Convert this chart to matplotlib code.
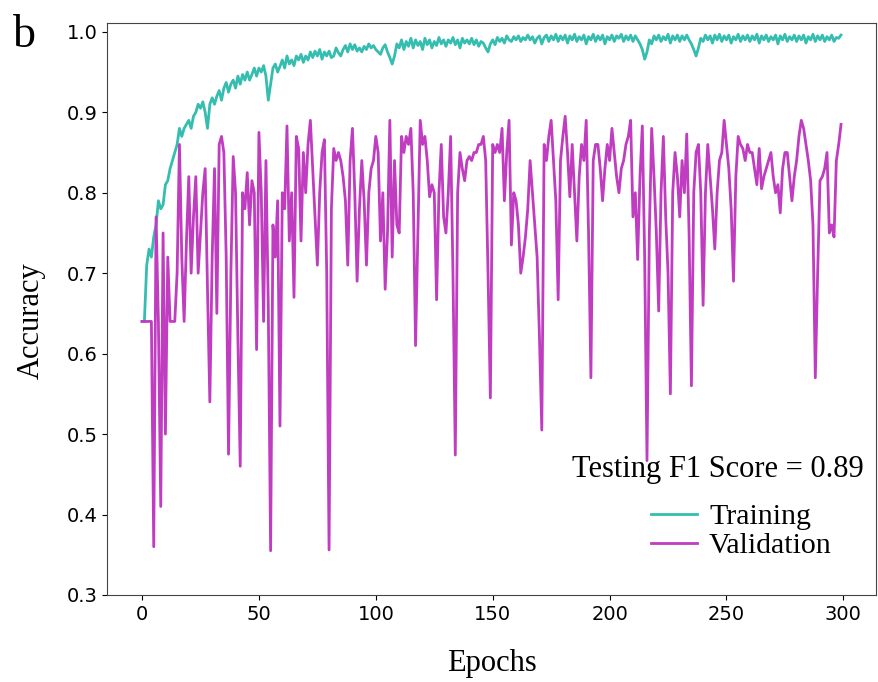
import numpy as np
import matplotlib.pyplot as plt

# Accuracy per epoch
train_acc = [
    0.64, 0.64, 0.71, 0.73, 0.72, 0.745, 0.76, 0.79, 0.78, 0.785,
    0.81, 0.815, 0.83, 0.84, 0.85, 0.86, 0.88, 0.87, 0.88, 0.885,
    0.89, 0.88, 0.895, 0.90, 0.91, 0.905, 0.913, 0.90, 0.88, 0.91,
    0.918, 0.91, 0.92, 0.927, 0.915, 0.93, 0.937, 0.925, 0.935, 0.94,
    0.93, 0.945, 0.935, 0.947, 0.94, 0.95, 0.94, 0.947, 0.955, 0.945,
    0.955, 0.95, 0.958, 0.945, 0.915, 0.935, 0.955, 0.96, 0.95, 0.957,
    0.965, 0.955, 0.97, 0.96, 0.965, 0.958, 0.97, 0.965, 0.972, 0.962,
    0.97, 0.965, 0.975, 0.968, 0.976, 0.97, 0.978, 0.966, 0.975, 0.97,
    0.976, 0.968, 0.97, 0.98, 0.974, 0.97, 0.978, 0.983, 0.975, 0.985,
    0.978, 0.984, 0.976, 0.98, 0.975, 0.982, 0.978, 0.985, 0.98, 0.983,
    0.978, 0.975, 0.972, 0.98, 0.984, 0.975, 0.968, 0.96, 0.97, 0.985,
    0.98, 0.99, 0.978, 0.988, 0.982, 0.992, 0.98, 0.99, 0.983, 0.988,
    0.978, 0.992, 0.984, 0.99, 0.98, 0.988, 0.983, 0.993, 0.985, 0.99,
    0.982, 0.99, 0.986, 0.993, 0.984, 0.99, 0.98, 0.992, 0.986, 0.99,
    0.985, 0.992, 0.984, 0.99, 0.982, 0.988, 0.986, 0.98, 0.975, 0.985,
    0.99, 0.984, 0.993, 0.988, 0.992, 0.986, 0.995, 0.99, 0.988, 0.994,
    0.99, 0.995, 0.988, 0.993, 0.99, 0.996, 0.99, 0.994, 0.986, 0.992,
    0.995, 0.985, 0.993, 0.996, 0.988, 0.995, 0.99, 0.997, 0.988, 0.995,
    0.99, 0.996, 0.986, 0.995, 0.99, 0.997, 0.988, 0.994, 0.99, 0.996,
    0.985, 0.994, 0.99, 0.997, 0.988, 0.995, 0.99, 0.996, 0.985, 0.994,
    0.99, 0.996, 0.988, 0.995, 0.992, 0.997, 0.988, 0.995, 0.99, 0.996,
    0.988, 0.995, 0.99, 0.985, 0.978, 0.966, 0.975, 0.99, 0.985, 0.995,
    0.99, 0.996, 0.988, 0.994, 0.99, 0.997, 0.986, 0.995, 0.99, 0.996,
    0.988, 0.995, 0.99, 0.996, 0.99, 0.985, 0.978, 0.97, 0.98, 0.992,
    0.988, 0.996, 0.99, 0.995, 0.986, 0.996, 0.99, 0.997, 0.988, 0.995,
    0.99, 0.996, 0.986, 0.994, 0.99, 0.997, 0.988, 0.995, 0.99, 0.996,
    0.988, 0.995, 0.99, 0.997, 0.986, 0.995, 0.99, 0.996, 0.988, 0.994,
    0.99, 0.996, 0.985, 0.995, 0.99, 0.997, 0.988, 0.994, 0.99, 0.996,
    0.988, 0.995, 0.99, 0.996, 0.986, 0.994, 0.99, 0.997, 0.988, 0.995,
    0.99, 0.996, 0.988, 0.994, 0.99, 0.996, 0.988, 0.993, 0.992, 0.996,
]

val_acc = [
    0.64, 0.64, 0.64, 0.64, 0.64, 0.36, 0.77, 0.64, 0.41, 0.75,
    0.50, 0.72, 0.64, 0.64, 0.64, 0.70, 0.86, 0.72, 0.64, 0.74,
    0.82, 0.70, 0.77, 0.82, 0.70, 0.75, 0.80, 0.83, 0.68, 0.54,
    0.72, 0.83, 0.65, 0.86, 0.87, 0.85, 0.72, 0.475, 0.70, 0.845,
    0.80, 0.62, 0.46, 0.80, 0.78, 0.825, 0.76, 0.815, 0.80, 0.605,
    0.875, 0.80, 0.64, 0.84, 0.66, 0.355, 0.76, 0.72, 0.79, 0.51,
    0.80, 0.78, 0.883, 0.74, 0.80, 0.67, 0.87, 0.855, 0.74, 0.85,
    0.80, 0.86, 0.89, 0.83, 0.77, 0.71, 0.80, 0.85, 0.866, 0.70,
    0.356, 0.78, 0.855, 0.84, 0.85, 0.84, 0.82, 0.79, 0.71, 0.84,
    0.88, 0.80, 0.69, 0.78, 0.84, 0.79, 0.71, 0.80, 0.83, 0.84,
    0.87, 0.85, 0.74, 0.80, 0.68, 0.75, 0.89, 0.72, 0.84, 0.76,
    0.75, 0.87, 0.85, 0.87, 0.86, 0.88, 0.80, 0.61, 0.75, 0.89,
    0.86, 0.87, 0.84, 0.795, 0.81, 0.80, 0.667, 0.80, 0.86, 0.77,
    0.75, 0.80, 0.87, 0.70, 0.474, 0.80, 0.85, 0.83, 0.815, 0.84,
    0.845, 0.84, 0.85, 0.85, 0.86, 0.86, 0.87, 0.84, 0.70, 0.545,
    0.86, 0.85, 0.86, 0.85, 0.88, 0.79, 0.85, 0.89, 0.735, 0.80,
    0.79, 0.76, 0.70, 0.72, 0.745, 0.78, 0.84, 0.80, 0.76, 0.72,
    0.62, 0.505, 0.86, 0.84, 0.87, 0.89, 0.84, 0.79, 0.667, 0.84,
    0.87, 0.895, 0.85, 0.795, 0.86, 0.80, 0.74, 0.82, 0.86, 0.84,
    0.89, 0.75, 0.57, 0.84, 0.86, 0.86, 0.83, 0.79, 0.83, 0.86,
    0.84, 0.88, 0.85, 0.82, 0.80, 0.83, 0.84, 0.86, 0.87, 0.89,
    0.77, 0.80, 0.717, 0.82, 0.883, 0.72, 0.467, 0.75, 0.88, 0.82,
    0.75, 0.653, 0.80, 0.87, 0.77, 0.70, 0.55, 0.80, 0.85, 0.82,
    0.77, 0.84, 0.80, 0.873, 0.75, 0.56, 0.80, 0.85, 0.86, 0.80,
    0.66, 0.80, 0.86, 0.82, 0.78, 0.73, 0.80, 0.84, 0.85, 0.89,
    0.86, 0.83, 0.78, 0.69, 0.82, 0.87, 0.86, 0.855, 0.84, 0.86,
    0.85, 0.85, 0.83, 0.81, 0.855, 0.805, 0.82, 0.83, 0.84, 0.85,
    0.82, 0.80, 0.81, 0.775, 0.83, 0.85, 0.85, 0.82, 0.79, 0.82,
    0.84, 0.87, 0.89, 0.88, 0.86, 0.84, 0.815, 0.76, 0.57, 0.70,
    0.815, 0.82, 0.83, 0.85, 0.75, 0.76, 0.745, 0.84, 0.86, 0.885,
]

epochs = np.arange(len(train_acc))
serif = 'Liberation Serif'

fig = plt.figure(figsize=(8.79, 6.82), dpi=100)
ax = fig.add_axes([0.1217, 0.1276, 0.875, 0.8387])

ax.plot(epochs, train_acc, color='#35bdb0', lw=2, label='Training')
ax.plot(epochs, val_acc, color='#c03cc0', lw=2, label='Validation')

ax.set_xlim(-15, 314)
ax.set_ylim(0.3, 1.011)
ax.set_xticks([0, 50, 100, 150, 200, 250, 300])
ax.set_yticks([0.3, 0.4, 0.5, 0.6, 0.7, 0.8, 0.9, 1.0])
ax.tick_params(labelsize=14)
for s in ax.spines.values():
    s.set_color('#444444')

ax.set_xlabel('Epochs', fontsize=22, family=serif, labelpad=18)
ax.set_ylabel('Accuracy', fontsize=22, family=serif)
ax.yaxis.set_label_coords(-0.08, 0.48)

ax.text(0.984, 0.2185, 'Testing F1 Score = 0.89', transform=ax.transAxes,
        ha='right', va='center', fontsize=22, family=serif)
ax.legend(loc='lower right', bbox_to_anchor=(0.958, 0.042), borderaxespad=0,
          frameon=False, prop={'family': serif, 'size': 21.5},
          handlelength=1.55, handletextpad=0.4, labelspacing=0.06)

fig.text(0.0148, 0.931, 'b', fontsize=33, family=serif)

fig.savefig('out.png', dpi=100)
